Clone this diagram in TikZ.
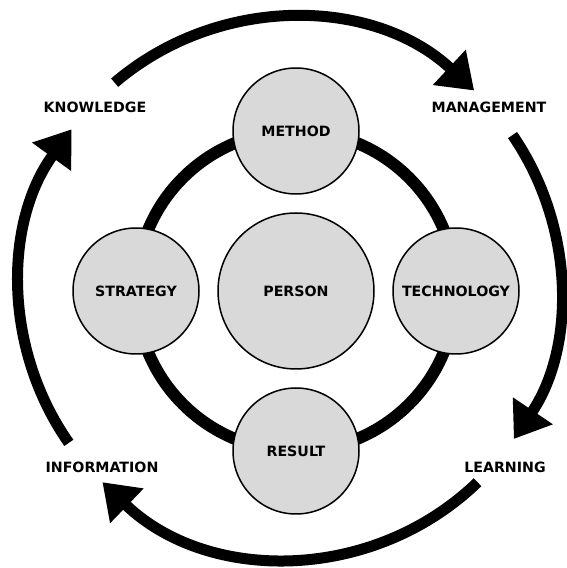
\documentclass[tikz,border=0pt]{standalone}
\usepackage{fontspec}
\setmainfont{DejaVu Sans}
\usetikzlibrary{arrows.meta}

\tikzset{
  topic/.style={circle, draw, line width=1.5pt, fill=black!15,
    minimum size=126pt, inner sep=0pt},
  cyclearc/.style={line width=11pt, -{Triangle[length=34pt,width=46pt]}},
}

\begin{document}
\begin{tikzpicture}[x=1pt, y=1pt, font=\fontsize{14.2}{16}\selectfont\bfseries]
    \useasboundingbox (0,0) rectangle (566,568);
    \coordinate (hub) at (296,277);
    \coordinate (rim) at (290,280);

    % inner ring behind the circles
    \draw [line width=12pt] (hub) circle (160);

    \node [topic, minimum size=156pt] (person) at (hub) {PERSON};
    \node [topic] (method)   at (296,437) {METHOD};
    \node [topic] (strategy) at (136,277) {STRATEGY};
    \node [topic] (techno)   at (456,277) {TECHNOLOGY};
    \node [topic] (result)   at (296,117) {RESULT};

    \node (knowledge)   at (95,461)  {KNOWLEDGE};
    \node (management)  at (489,461) {MANAGEMENT};
    \node (information) at (102,101) {INFORMATION};
    \node (learning)    at (505,101) {LEARNING};

    % outer cycle
    \draw [cyclearc] (rim) ++(130.5:270) arc [start angle=130.5, end angle=47, radius=270];
    \draw [cyclearc] (rim) ++(34.5:270)  arc [start angle=34.5, end angle=-34, radius=270];
    \draw [cyclearc] (rim) ++(-46:270)   arc [start angle=-46, end angle=-134, radius=270];
    \draw [cyclearc] (rim) ++(215:270)   arc [start angle=215, end angle=144, radius=270];
\end{tikzpicture}
\end{document}
